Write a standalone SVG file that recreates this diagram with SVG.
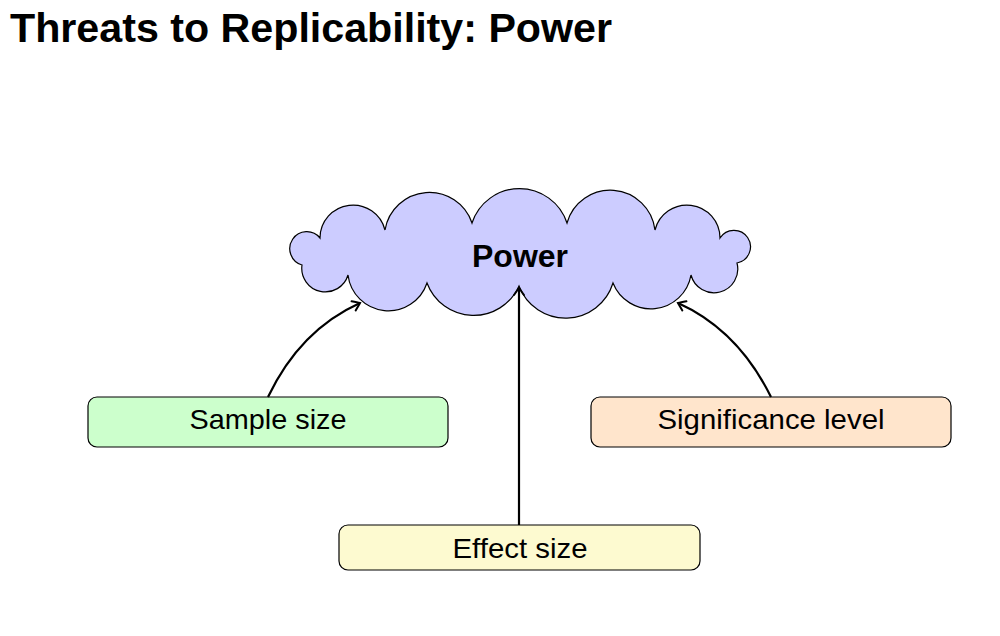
<svg xmlns="http://www.w3.org/2000/svg" width="1000" height="636" viewBox="0 0 1000 636">
<style>
text{font-family:"Liberation Sans","DejaVu Sans",sans-serif;fill:#000}
.t{font-size:40px;font-weight:bold}
.p{font-size:31px;font-weight:bold}
.l{font-size:28px}
.box{stroke:#000;stroke-width:1.2}
.c{fill:none;stroke:#000;stroke-width:2.2}
</style>
<defs>
<marker id="arr" markerUnits="userSpaceOnUse" markerWidth="20" markerHeight="20" refX="0" refY="0" viewBox="-10 -10 20 20" orient="auto">
<path d="M -7 -5 Q -2 -1.5 0 0 Q -2 1.5 -7 5" fill="none" stroke="#000" stroke-width="2" stroke-linecap="round"/>
</marker>
</defs>
<rect width="1000" height="636" fill="#fff"/>
<text class="t" x="10" y="42" textLength="602" lengthAdjust="spacingAndGlyphs">Threats to Replicability: Power</text>
<g id="power">
<path d="M 302 265 A 17 17 0 1 1 320 238 A 33 33 0 0 1 385 230 A 45 45 0 0 1 472 223 A 50 50 0 0 1 567 223 A 45 45 0 0 1 655 230 A 33 33 0 0 1 720 238 A 16.5 16.5 0 1 1 737 263 A 23.6 23.6 0 0 1 691 275 A 40.7 40.7 0 0 1 613 283 A 49.7 49.7 0 0 1 519 286 A 49.7 49.7 0 0 1 427 283 A 40.7 40.7 0 0 1 348 275 A 23.6 23.6 0 0 1 302 265 Z" fill="#ccccff" stroke="#000" stroke-width="1.2"/>
<text class="p" x="520" y="267" text-anchor="middle" textLength="96" lengthAdjust="spacingAndGlyphs">Power</text>
</g>
<g id="sample">
<rect class="box" x="88" y="397" width="360" height="50" rx="9" fill="#ccffcc"/>
<text class="l" x="268" y="429" text-anchor="middle" textLength="157" lengthAdjust="spacingAndGlyphs">Sample size</text>
</g>
<g id="significance">
<rect class="box" x="591" y="397" width="360" height="50" rx="9" fill="#ffe5cc"/>
<text class="l" x="771" y="429" text-anchor="middle" textLength="227" lengthAdjust="spacingAndGlyphs">Significance level</text>
</g>
<g id="effect">
<rect class="box" x="339" y="525" width="361" height="45" rx="9" fill="#fdfad0"/>
<text class="l" x="520" y="558" text-anchor="middle" textLength="135" lengthAdjust="spacingAndGlyphs">Effect size</text>
</g>
<g id="connectors">
<path class="c" d="M 268 397 Q 300 330 360 303" marker-end="url(#arr)"/>
<path class="c" d="M 771 397 Q 738 330 678 303" marker-end="url(#arr)"/>
<path class="c" d="M 519 525 L 519 288" marker-end="url(#arr)"/>
</g>
</svg>
